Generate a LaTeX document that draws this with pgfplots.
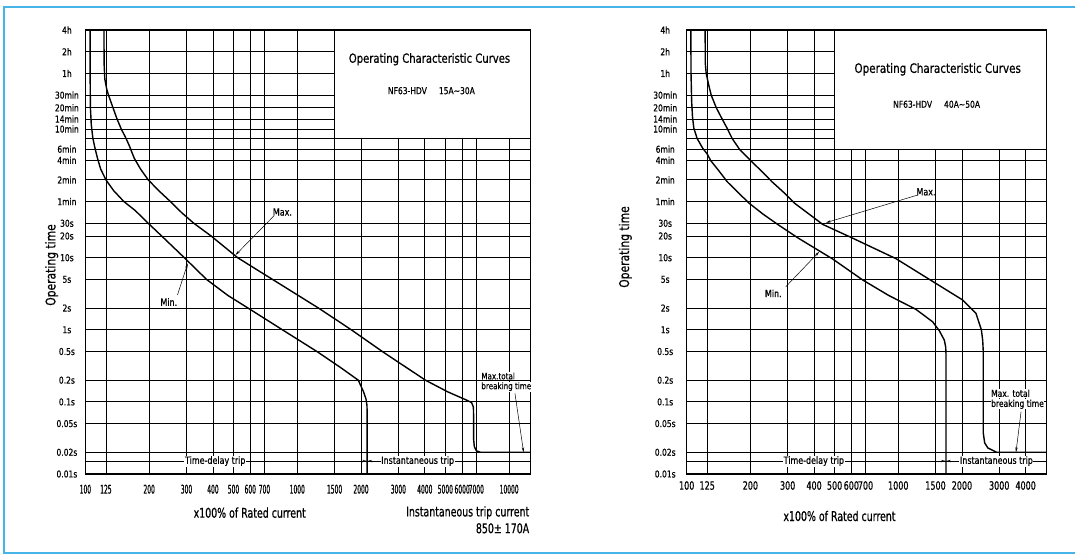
\documentclass[border=0pt]{standalone}
\usepackage{fontspec}
\setmainfont{DejaVu Sans}[FakeStretch=0.8, FakeBold=0.6]
\newfontfamily\fxa{DejaVu Sans}[FakeStretch=0.5, FakeBold=0.6]
\newfontfamily\fxb{DejaVu Sans}[FakeStretch=0.7, FakeBold=0.6]
\usepackage{pgfplots}
\pgfplotsset{compat=1.18}
\usetikzlibrary{arrows.meta}
\definecolor{frameblue}{RGB}{70,180,230}
\tikzset{
  tcnote/.style={black, line width=0.5bp},
  tcarr/.style={black, line width=0.5bp, -{Stealth[length=5bp,width=2.4bp]}},
  tclab/.style={font=\fontsize{10}{10}\selectfont, inner sep=0.6bp},
  tcwlab/.style={font=\fontsize{10}{10}\selectfont, inner sep=0.6bp, fill=white},
  tccurve/.style={black, line width=1.4bp},
}
\begin{document}
\begin{tikzpicture}[x=1bp,y=1bp]
\path[use as bounding box] (0,0) rectangle (1075,554);
\draw[frameblue, line width=1.5bp] (1080,547) -- (4,547) -- (4,1) -- (1080,1);

% ---------------- Left panel ----------------
\begin{axis}[scale only axis, height=444bp, width=445bp,
  at={(85.4bp,80bp)}, anchor=south west,
  xmode=log, ymode=log, ymin=0.01, ymax=14400, xmin=100, xmax=12600,
  ytick={14400,7200,3600,1800,1200,840,610,450,320,225,120,60,30,20,10,5,2,1,0.5,0.2,0.1,0.05,0.02,0.01},
  yticklabels={4h,2h,1h,30min,20min,14min,10min,{},6min,4min,2min,1min,30s,20s,10s,5s,2s,1s,0.5s,0.2s,0.1s,0.05s,0.02s,0.01s},
  xtick={100,125,200,300,400,500,600,700,1000,1500,2000,3000,4000,5000,6000,7000,10000},
  xticklabels={100,125,200,300,400,500,600,700,1000,1500,2000,3000,4000,5000,6000,7000,10000},
  xminorticks=false, yminorticks=false,
  major tick length=0pt,
  xmajorgrids, ymajorgrids,
  major grid style={black, line width=0.8bp},
  axis line style={black, line width=1.1bp},
  yticklabel style={font=\fontsize{9.5}{10}\selectfont, anchor=center, inner sep=0pt, xshift=-18.5bp},
  xticklabel style={font=\fxa\fontsize{12}{12}\selectfont, anchor=north, inner sep=0pt, yshift=-10.5bp},
  clip=false]
\addplot[tccurve] coordinates {(105.2,14400) (105.3,3000) (105.6,1200) (106.6,700) (108.5,450) (111,330) (114,240) (118,170) (125,120) (136,85) (152,60) (172,45) (198,30) (229,20) (293,10) (373,5) (470,3) (586,2) (851,1) (1238,0.5) (1600,0.3) (1941,0.2) (2051,0.14) (2110,0.11) (2132,0.09) (2138,0.07) (2138,0.01)};
\addplot[tccurve] coordinates {(122.4,14400) (122.5,5000) (123.5,3000) (126,2200) (128.5,1800) (135,1200) (141,840) (148,600) (154,480) (161,360) (170,240) (182,170) (198,120) (222,85) (252,60) (285,42) (325,30) (392,20) (523,10) (648,6.75) (764,5) (992,3.1) (1260,2) (1799,1) (2520,0.5) (4027,0.2) (5126,0.138) (6200,0.108) (6650,0.098) (6780,0.085) (6800,0.06) (6800,0.03) (6850,0.024) (7000,0.021) (7330,0.02) (12600,0.02)};
\fill[white] (axis cs:1500,450) rectangle (axis cs:12600,14400);
\draw[line width=1.1bp] (axis cs:1500,450) rectangle (axis cs:12600,14400);
\node[tclab] at (axis cs:851,43) {Max.};
\draw[tcarr] (axis cs:775,37.9) -- (axis cs:511,10.9);
\node[tclab] at (axis cs:247.5,2.43) {Min.};
\draw[tcarr] (axis cs:272,3.04) -- (axis cs:304,8.36);
\draw[tcnote] (axis cs:100,0.0151) -- (axis cs:12600,0.0151);
\draw[tcarr] (axis cs:1900,0.0151) -- (axis cs:2138,0.0151);
\draw[tcarr] (axis cs:2420,0.0151) -- (axis cs:2138,0.0151);
\node[tcwlab] at (axis cs:410,0.0151) {Time-delay trip};
\node[tcwlab] at (axis cs:3701,0.0151) {Instantaneous trip};
\node[tcwlab, anchor=west, font=\fontsize{9}{9}\selectfont] at (axis cs:7330,0.2286) {Max.total};
\node[tcwlab, anchor=west, font=\fontsize{9}{9}\selectfont] at (axis cs:7330,0.1625) {breaking time};
\draw[tcarr] (axis cs:10650,0.1316) -- (axis cs:11700,0.02);
\end{axis}
\node[font=\fontsize{12.6}{13}\selectfont] at (429.5,494.7) {Operating Characteristic Curves};
\node[font=\fontsize{9.5}{10}\selectfont] at (431.4,463.3) {NF63-HDV\hspace{12bp}15A∼30A};
\node[font=\fxb\fontsize{13.5}{14}\selectfont] at (249.7,41.3) {x100\% of Rated current};
\node[font=\fxb\fontsize{13.5}{14}\selectfont, anchor=east, inner sep=0pt] at (529.4,41.3) {Instantaneous trip current};
\node[font=\fxb\fontsize{13.5}{14}\selectfont, anchor=east, inner sep=0pt] at (529.4,25.7) {850± 170A};
\node[font=\fontsize{13.5}{14}\selectfont, rotate=90] at (51.7,289) {Operating time};

% ---------------- Right panel ----------------
\begin{axis}[scale only axis, height=444bp, width=360bp,
  at={(686.7bp,80bp)}, anchor=south west,
  xmode=log, ymode=log, ymin=0.01, ymax=14400, xmin=100, xmax=5030,
  ytick={14400,7200,3600,1800,1200,840,610,450,320,225,120,60,30,20,10,5,2,1,0.5,0.2,0.1,0.05,0.02,0.01},
  yticklabels={4h,2h,1h,30min,20min,14min,10min,{},6min,4min,2min,1min,30s,20s,10s,5s,2s,1s,0.5s,0.2s,0.1s,0.05s,0.02s,0.01s},
  xtick={100,125,200,300,400,500,600,700,1000,1500,2000,3000,4000},
  xticklabels={100,125,200,300,400,500,600,700,1000,1500,2000,3000,4000},
  xminorticks=false, yminorticks=false,
  major tick length=0pt,
  xmajorgrids, ymajorgrids,
  major grid style={black, line width=0.8bp},
  axis line style={black, line width=1.1bp},
  yticklabel style={font=\fontsize{9.5}{10}\selectfont, anchor=center, inner sep=0pt, xshift=-21.5bp},
  xticklabel style={font=\fxb\fontsize{11.5}{12}\selectfont, anchor=north, inner sep=0pt, yshift=-7bp},
  clip=false]
\addplot[tccurve] coordinates {(104.6,14400) (104.8,3600) (105.5,1500) (106.5,900) (108,630) (112,450) (119,330) (125,274) (130,221) (142,160) (155.5,113) (175,80) (197.6,56.8) (230,40) (269,29) (334.6,18.9) (489.7,9.59) (678.9,4.91) (900,3.0) (1212,1.92) (1454,1.29) (1563,0.97) (1650,0.72) (1675,0.58) (1680,0.48) (1680,0.01)};
\addplot[tccurve] coordinates {(122.2,14400) (122.4,5000) (123.6,3600) (127,2500) (130.5,1800) (138,1200) (147,840) (155,630) (164,450) (178.6,312) (201,221) (225,160) (253,113) (288,80) (324,56.8) (380,40) (439,29) (603,18.9) (975,9.7) (1403,5) (2015,2.59) (2329,1.69) (2470,1.0) (2505,0.72) (2522,0.5) (2522,0.037) (2560,0.027) (2650,0.023) (2917,0.02) (5030,0.02)};
\fill[white] (axis cs:500,320) rectangle (axis cs:5030,14400);
\draw[line width=1.1bp] (axis cs:500,320) rectangle (axis cs:5030,14400);
\node[tclab] at (axis cs:1352,82) {Max.};
\draw[tcarr] (axis cs:1235,74) -- (axis cs:455,30.6);
\node[tclab] at (axis cs:256.6,3.2) {Min.};
\draw[tcarr] (axis cs:294,3.96) -- (axis cs:423,12.1);
\draw[tcnote] (axis cs:100,0.0151) -- (axis cs:5030,0.0151);
\draw[tcarr] (axis cs:1500,0.0151) -- (axis cs:1680,0.0151);
\draw[tcarr] (axis cs:1880,0.0151) -- (axis cs:1680,0.0151);
\node[tcwlab] at (axis cs:399,0.0151) {Time-delay trip};
\node[tcwlab] at (axis cs:2909,0.0151) {Instantaneous trip};
\node[tcwlab, anchor=west, font=\fontsize{9.5}{9.5}\selectfont] at (axis cs:2724,0.1316) {Max. total};
\node[tcwlab, anchor=west, font=\fontsize{9.5}{9.5}\selectfont] at (axis cs:2724,0.0927) {breaking time};
\draw[tcarr] (axis cs:3804,0.073) -- (axis cs:3599,0.02);
\end{axis}
\node[font=\fontsize{13}{13}\selectfont] at (937.7,484.7) {Operating Characteristic Curves};
\node[font=\fontsize{9.5}{10}\selectfont] at (936.6,449.7) {NF63-HDV\hspace{12bp}40A∼50A};
\node[font=\fxb\fontsize{13.5}{14}\selectfont] at (839.5,38) {x100\% of Rated current};
\node[font=\fontsize{13.5}{14}\selectfont, rotate=90] at (625.3,307) {Operating time};
\end{tikzpicture}
\end{document}
